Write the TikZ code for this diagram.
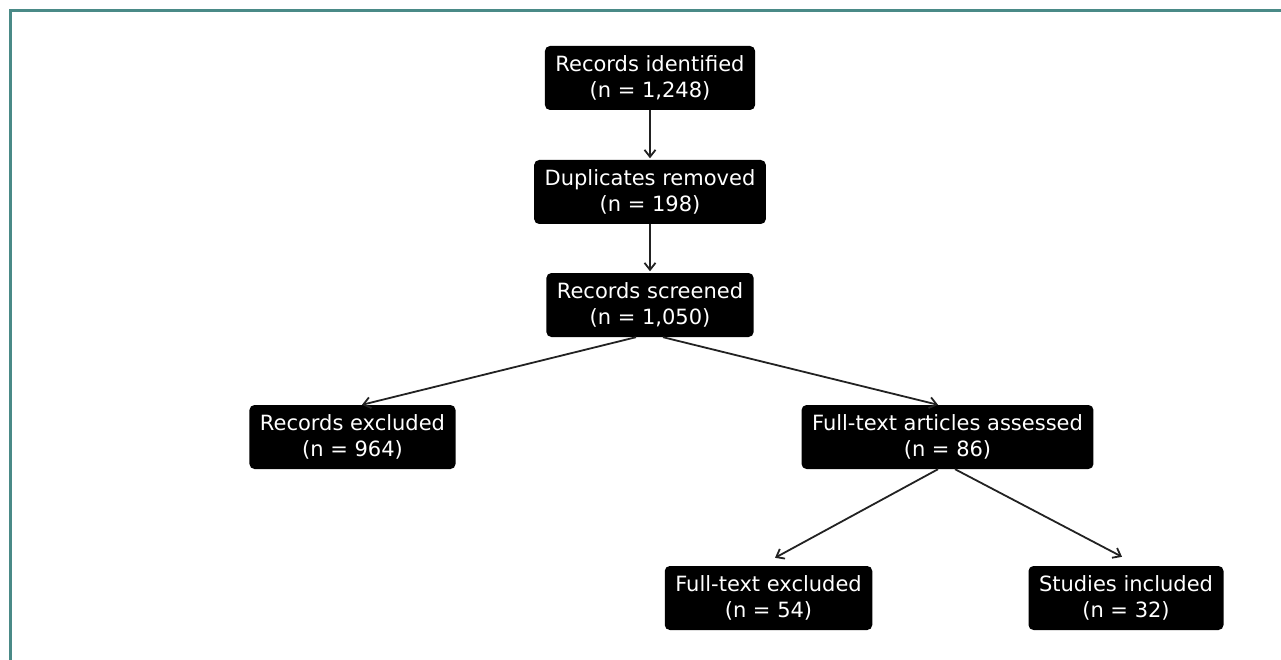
\documentclass[tikz,border=0pt]{standalone}
\usepackage{fontspec}
\setmainfont{DejaVu Sans}
\usetikzlibrary{arrows.meta,calc}
\definecolor{frame}{HTML}{4A8A87}
\definecolor{arr}{HTML}{222222}
\begin{document}
\begin{tikzpicture}[x=1pt,y=-1pt,
  box/.style={fill=black,rounded corners=5pt,text=white,align=center,
    inner xsep=10.5pt,inner ysep=0pt,minimum height=64pt,
    font=\fontsize{21}{26.5}\selectfont},
  conn/.style={draw=arr,line width=1.8pt,-{Straight Barb[length=7pt,width=11pt,line width=1.8pt]}}]
\useasboundingbox (0,0) rectangle (1281,660);
\draw[frame,line width=2.6pt] (10.5,10.5) rectangle (1300,680);
\node[box] (id)  at (650,78)    {Records identified\\(n = 1,248)};
\node[box] (dup) at (650,192)   {Duplicates removed\\(n = 198)};
\node[box] (scr) at (650,305)   {Records screened\\(n = 1,050)};
\node[box] (exc) at (352.5,437) {Records excluded\\(n = 964)};
\node[box] (fta) at (947.5,437) {Full-text articles assessed\\(n = 86)};
\node[box] (fte) at (768.5,598) {Full-text excluded\\(n = 54)};
\node[box] (inc) at (1126,598)  {Studies included\\(n = 32)};
\draw[conn] (id.south) -- ($(dup.north)+(0,-1.5)$);
\draw[conn] (dup.south) -- ($(scr.north)+(0,-1.5)$);
\draw[conn] ($(scr.south)+(-14,0)$) -- ($(exc.north)+(9.5,0)$);
\draw[conn] ($(scr.south)+(13,0)$) -- ($(fta.north)+(-9.5,0)$);
\draw[conn] ($(fta.south)+(-9.5,0)$) -- ($(fte.north)+(6.5,-8)$);
\draw[conn] ($(fta.south)+(7.5,0)$) -- ($(inc.north)+(-4,-9)$);
\end{tikzpicture}
\end{document}
